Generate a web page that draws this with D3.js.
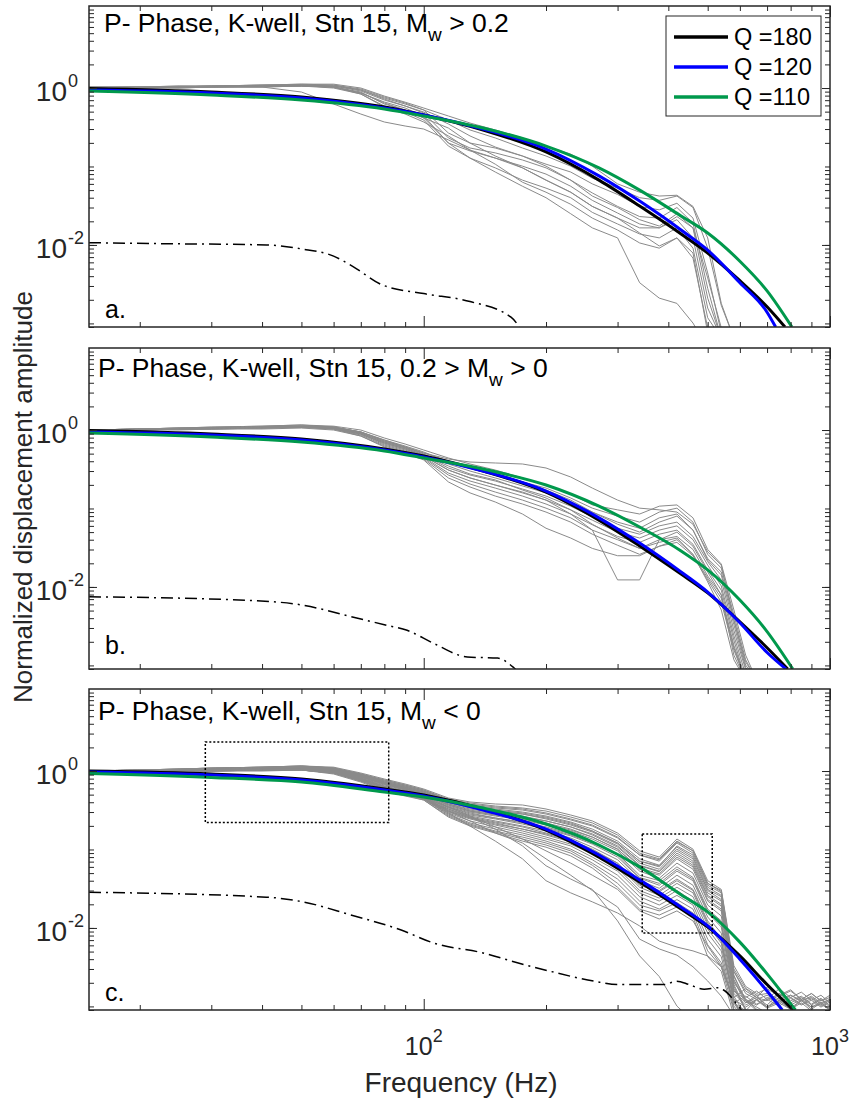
<!DOCTYPE html>
<html>
<head>
<meta charset="utf-8">
<script src="https://cdn.jsdelivr.net/npm/d3@7"></script>
<style>
  body { margin: 0; background: #fff; }
  svg text { font-family: "Liberation Sans", Arial, Helvetica, sans-serif; white-space: pre; }
</style>
</head>
<body>
<div id="chart"></div>
<script>
// **************************
// Data
// **************************
const freqGrid = [15, 20, 25, 30, 40, 50, 60, 70, 80, 90, 100, 115, 130, 150, 175, 200, 230, 260, 300, 340,
  380, 420, 460, 500, 540, 580, 620, 660, 700, 750, 800, 850, 900, 950, 1000]

// observed spectra, panel a (Mw > 0.2)
const grayA = [
  [1.03,1.03,1.06,1.06,1.09,1.12,1.12,1.0,0.79,0.66,0.556,0.44,0.358,0.292,0.231,0.182,0.144,0.101,0.060,0.047,0.042,0.043,0.031,0.0123,0.0018,0.00065],
  [1.03,1.03,1.06,1.06,1.09,1.12,1.09,0.943,0.746,0.625,0.525,0.391,0.292,0.231,0.172,0.136,0.101,0.071,0.053,0.040,0.037,0.042,0.030,0.0091,0.0017,0.00065],
  [1.0,1.03,1.03,1.06,1.09,1.09,1.09,0.971,0.768,0.644,0.525,0.267,0.199,0.172,0.136,0.107,0.085,0.060,0.044,0.031,0.028,0.034,0.022,0.0044,0.00076],
  [1.0,1.03,1.03,1.06,1.06,1.09,1.06,0.916,0.703,0.590,0.480,0.231,0.172,0.149,0.121,0.096,0.067,0.046,0.031,0.023,0.022,0.030,0.019,0.0028,0.00065],
  [1.0,1.0,1.03,1.03,1.06,1.09,1.03,0.864,0.663,0.556,0.440,0.199,0.158,0.128,0.101,0.080,0.056,0.037,0.0255,0.0185,0.0165,0.023,0.0165,0.0021,0.00065],
  [1.0,1.0,1.03,1.03,1.06,1.06,1.03,0.889,0.625,0.525,0.415,0.309,0.199,0.136,0.096,0.067,0.047,0.031,0.022,0.0165,0.0165,0.021,0.0123,0.00157,0.00065],
  [1.0,1.0,1.03,1.03,1.03,1.06,1.03,0.839,0.590,0.494,0.391,0.182,0.128,0.096,0.067,0.053,0.040,0.026,0.0185,0.0138,0.0123,0.0165,0.0091,0.00118,0.00065],
  [1.0,1.0,1.0,1.03,1.03,1.06,1.0,0.839,0.573,0.466,0.369,0.245,0.162,0.107,0.063,0.047,0.033,0.022,0.0155,0.0106,0.0091,0.0123,0.0068,0.00088],
  [1.0,1.0,1.0,1.03,1.03,0.889,0.625,0.466,0.369,0.328,0.300,0.218,0.162,0.128,0.096,0.067,0.047,0.031,0.022,0.0142,0.0097,0.0123,0.0079,0.00076],
  [1.0,1.0,1.03,1.03,1.06,1.06,1.03,0.864,0.644,0.525,0.415,0.199,0.128,0.085,0.056,0.040,0.025,0.0165,0.0123,0.0033,0.0021,0.0018,0.00101,0.00048],
  [1.03,1.03,1.03,1.06,1.06,1.09,1.06,0.943,0.724,0.590,0.494,0.348,0.245,0.177,0.136,0.101,0.067,0.042,0.030,0.021,0.0174,0.025,0.0165,0.0038,0.00088]
]

// observed spectra, panel b (0.2 > Mw > 0)
const grayB = [
  [1.0,1.03,1.06,1.09,1.12,1.16,1.12,1.0,0.791,0.663,0.556,0.440,0.369,0.309,0.245,0.199,0.153,0.111,0.096,0.085,0.107,0.111,0.076,0.030,0.0196,0.0051,0.00135,0.00065],
  [1.0,1.03,1.06,1.09,1.12,1.16,1.09,0.943,0.746,0.625,0.525,0.391,0.328,0.275,0.218,0.182,0.136,0.101,0.080,0.067,0.090,0.101,0.067,0.026,0.0174,0.0044,0.00118,0.00065],
  [1.0,1.03,1.06,1.06,1.09,1.12,1.09,0.943,0.724,0.607,0.494,0.369,0.300,0.245,0.194,0.158,0.121,0.090,0.067,0.056,0.076,0.085,0.053,0.023,0.0155,0.0038,0.00101,0.00065],
  [1.0,1.03,1.03,1.06,1.09,1.12,1.06,0.916,0.703,0.590,0.480,0.328,0.267,0.224,0.177,0.144,0.107,0.078,0.056,0.047,0.060,0.067,0.044,0.021,0.0123,0.0028,0.00088],
  [1.0,1.0,1.03,1.06,1.09,1.12,1.06,0.889,0.683,0.573,0.466,0.309,0.245,0.199,0.158,0.128,0.096,0.071,0.050,0.042,0.053,0.060,0.040,0.019,0.0103,0.0024,0.00076],
  [1.0,1.0,1.03,1.06,1.06,1.09,1.06,0.889,0.663,0.556,0.453,0.283,0.224,0.182,0.144,0.114,0.085,0.062,0.044,0.037,0.047,0.053,0.035,0.0165,0.0091,0.0021,0.00065],
  [1.0,1.0,1.03,1.03,1.06,1.09,1.03,0.864,0.644,0.540,0.440,0.267,0.205,0.162,0.128,0.101,0.076,0.053,0.040,0.031,0.040,0.044,0.030,0.0138,0.0079,0.0018,0.00065],
  [1.0,1.0,1.03,1.03,1.06,1.09,1.03,0.839,0.625,0.525,0.427,0.245,0.188,0.144,0.114,0.090,0.067,0.047,0.034,0.026,0.033,0.037,0.025,0.0123,0.0064,0.00157,0.00065],
  [1.0,1.03,1.06,1.06,1.09,1.12,1.09,0.943,0.746,0.607,0.509,0.427,0.391,0.380,0.369,0.328,0.252,0.182,0.128,0.101,0.096,0.090,0.063,0.028,0.019,0.0038,0.00111,0.00065],
  [1.0,1.0,1.0,1.03,1.03,1.06,1.0,0.839,0.607,0.509,0.415,0.218,0.158,0.121,0.085,0.056,0.042,0.031,0.025,0.025,0.033,0.040,0.026,0.0116,0.0051,0.00118,0.00065],
  [1.0,1.0,1.03,1.03,1.06,1.09,1.03,0.889,0.683,0.573,0.466,0.309,0.245,0.199,0.162,0.128,0.085,0.053,0.0123,0.0123,0.040,0.050,0.033,0.0155,0.0079,0.00135,0.00065],
  [1.0,1.0,1.03,1.06,1.09,1.09,1.06,0.916,0.703,0.590,0.480,0.348,0.275,0.231,0.172,0.136,0.096,0.063,0.042,0.031,0.037,0.042,0.026,0.0130,0.0072,0.00168,0.00065],
  [1.0,1.03,1.03,1.06,1.09,1.12,1.09,0.943,0.724,0.607,0.509,0.403,0.338,0.275,0.218,0.172,0.128,0.090,0.063,0.050,0.067,0.080,0.053,0.022,0.0142,0.0033,0.00094,0.00065]
]

// observed spectra, panel c (Mw < 0)
const grayC = [
  [1.0,1.03,1.06,1.09,1.12,1.16,1.12,0.943,0.791,0.683,0.590,0.453,0.403,0.380,0.369,0.328,0.275,0.231,0.162,0.096,0.080,0.136,0.101,0.040,0.031,0.0033,0.0018,0.00146,0.00168,0.00135,0.00157,0.00123,0.00146,0.00118,0.00130],
  [1.0,1.03,1.06,1.09,1.12,1.16,1.09,0.916,0.768,0.663,0.573,0.427,0.380,0.348,0.328,0.292,0.245,0.205,0.144,0.085,0.071,0.121,0.090,0.035,0.028,0.0028,0.00157,0.00130,0.00118,0.00146,0.00111,0.00130,0.00104,0.00123,0.00098],
  [1.0,1.03,1.06,1.09,1.12,1.12,1.09,0.889,0.746,0.644,0.556,0.415,0.358,0.328,0.300,0.267,0.224,0.182,0.128,0.076,0.063,0.107,0.080,0.031,0.025,0.0024,0.00123,0.00092,0.00076],
  [1.0,1.03,1.03,1.06,1.09,1.12,1.06,0.889,0.724,0.625,0.540,0.391,0.338,0.309,0.283,0.245,0.205,0.167,0.117,0.067,0.056,0.096,0.071,0.028,0.022,0.00211,0.00111,0.00139,0.00098,0.00118,0.00092,0.00111,0.00088],
  [1.0,1.03,1.03,1.06,1.09,1.12,1.06,0.864,0.703,0.607,0.525,0.380,0.328,0.292,0.267,0.231,0.194,0.153,0.107,0.062,0.052,0.085,0.063,0.025,0.019,0.0018,0.00088,0.00065],
  [1.0,1.0,1.03,1.06,1.09,1.12,1.06,0.864,0.703,0.607,0.509,0.369,0.309,0.275,0.252,0.218,0.182,0.144,0.101,0.056,0.047,0.076,0.056,0.022,0.0165,0.00199,0.00130,0.00157,0.00123,0.00168,0.00130,0.00152,0.00120,0.00139,0.00111],
  [1.0,1.0,1.03,1.06,1.09,1.09,1.03,0.839,0.683,0.590,0.509,0.358,0.300,0.267,0.238,0.205,0.172,0.136,0.096,0.053,0.043,0.067,0.050,0.0196,0.0142,0.00168,0.00092,0.00065],
  [1.0,1.0,1.03,1.06,1.06,1.09,1.03,0.839,0.683,0.573,0.494,0.348,0.292,0.252,0.224,0.194,0.158,0.125,0.088,0.047,0.040,0.060,0.044,0.0174,0.0123,0.00146,0.00104,0.00123,0.00098,0.00130,0.00104,0.00123,0.00098,0.00114,0.00092],
  [1.0,1.0,1.03,1.03,1.06,1.09,1.03,0.814,0.663,0.573,0.480,0.338,0.275,0.245,0.211,0.182,0.149,0.117,0.080,0.043,0.035,0.053,0.040,0.0155,0.0103,0.00135,0.00076],
  [1.0,1.0,1.03,1.03,1.06,1.09,1.0,0.814,0.644,0.556,0.480,0.328,0.267,0.231,0.199,0.172,0.140,0.107,0.074,0.040,0.032,0.047,0.035,0.0138,0.0086,0.00123,0.00098,0.00120,0.00095,0.00111,0.00092,0.00118,0.00098,0.00107,0.00090],
  [1.0,1.0,1.03,1.03,1.06,1.06,1.0,0.791,0.644,0.556,0.466,0.318,0.259,0.224,0.194,0.162,0.132,0.101,0.067,0.036,0.030,0.042,0.031,0.0123,0.0072,0.00118,0.00065],
  [1.0,1.0,1.0,1.03,1.06,1.06,1.0,0.791,0.625,0.540,0.466,0.309,0.252,0.218,0.182,0.153,0.125,0.096,0.063,0.033,0.026,0.037,0.028,0.0109,0.0064,0.00111,0.00065],
  [1.0,1.0,1.0,1.03,1.03,1.06,0.971,0.768,0.625,0.540,0.453,0.300,0.245,0.205,0.172,0.144,0.117,0.088,0.058,0.030,0.024,0.033,0.025,0.0097,0.0057,0.00130,0.00168,0.00130,0.00178,0.00139,0.00163,0.00123,0.00146,0.00118,0.00139],
  [1.0,1.0,1.0,1.03,1.03,1.06,0.971,0.768,0.607,0.525,0.453,0.292,0.231,0.194,0.162,0.136,0.111,0.080,0.053,0.028,0.022,0.030,0.022,0.0086,0.0051,0.00101,0.00065],
  [1.0,1.0,1.0,1.03,1.03,1.03,0.943,0.746,0.590,0.509,0.440,0.283,0.218,0.182,0.153,0.128,0.101,0.074,0.047,0.025,0.0196,0.026,0.0196,0.0072,0.0043,0.00092,0.00065],
  [1.0,1.0,1.0,1.0,1.03,1.03,0.943,0.746,0.590,0.509,0.440,0.275,0.211,0.172,0.144,0.121,0.096,0.067,0.042,0.022,0.0174,0.023,0.0174,0.0061,0.0036,0.00111,0.00135,0.00107,0.00123,0.00101,0.00127,0.00104,0.00120,0.00098,0.00114],
  [1.0,1.0,1.0,1.0,1.03,1.03,0.943,0.746,0.573,0.494,0.427,0.267,0.205,0.167,0.136,0.114,0.090,0.063,0.037,0.0196,0.0165,0.021,0.0155,0.0051,0.0032,0.00088,0.00065],
  [1.0,1.0,1.0,1.0,1.0,1.03,0.916,0.724,0.556,0.480,0.427,0.259,0.199,0.162,0.128,0.107,0.083,0.058,0.033,0.0174,0.0146,0.0185,0.0138,0.0043,0.0028,0.00076],
  [1.0,1.03,1.03,1.06,1.09,1.12,1.09,0.916,0.768,0.663,0.573,0.440,0.391,0.358,0.338,0.309,0.259,0.218,0.153,0.090,0.076,0.128,0.096,0.037,0.030,0.0030,0.0017,0.00139,0.00146,0.00123,0.00139,0.00118,0.00135,0.00111,0.00123],
  [1.0,1.0,1.03,1.06,1.09,1.12,1.06,0.889,0.724,0.625,0.540,0.403,0.348,0.318,0.292,0.259,0.218,0.172,0.121,0.071,0.060,0.101,0.076,0.030,0.023,0.0022,0.00118,0.00098,0.00082],
  [1.0,1.0,1.03,1.03,1.06,1.09,1.03,0.839,0.683,0.590,0.494,0.348,0.283,0.252,0.218,0.188,0.153,0.121,0.085,0.044,0.037,0.056,0.042,0.0165,0.0113,0.00157,0.00111,0.00130,0.00104,0.00146,0.00118,0.00135,0.00107,0.00127,0.00101],
  [1.0,1.0,1.0,1.03,1.03,1.06,0.971,0.791,0.625,0.540,0.466,0.309,0.252,0.211,0.182,0.158,0.128,0.098,0.067,0.035,0.029,0.040,0.030,0.0116,0.0068,0.00118,0.00065],
  [1.0,1.03,1.06,1.09,1.12,1.16,1.09,0.916,0.746,0.644,0.556,0.427,0.369,0.338,0.318,0.283,0.238,0.199,0.140,0.085,0.074,0.125,0.096,0.037,0.029,0.0028,0.00146,0.00123,0.00139,0.00118,0.00130,0.00107,0.00127,0.00101,0.00120],
  [1.0,1.03,1.03,1.06,1.09,1.12,1.06,0.889,0.724,0.625,0.540,0.403,0.348,0.309,0.283,0.252,0.211,0.172,0.121,0.071,0.062,0.111,0.085,0.033,0.026,0.0025,0.00118,0.00088],
  [1.0,1.0,1.03,1.06,1.09,1.12,1.06,0.864,0.703,0.607,0.525,0.380,0.318,0.283,0.259,0.231,0.194,0.158,0.111,0.063,0.053,0.090,0.067,0.026,0.020,0.0019,0.00092,0.00065],
  [1.0,1.0,1.03,1.03,1.06,1.09,1.03,0.839,0.683,0.590,0.509,0.369,0.309,0.275,0.245,0.211,0.177,0.144,0.101,0.058,0.049,0.080,0.060,0.023,0.0174,0.00157,0.00123,0.00104,0.00130,0.00111,0.00139,0.00118,0.00130,0.00107,0.00123],
  [1.0,1.0,1.0,1.0,1.03,1.06,0.971,0.791,0.625,0.540,0.440,0.309,0.231,0.162,0.121,0.076,0.047,0.030,0.0185,0.0072,0.0054,0.0045,0.0032,0.00211,0.00135,0.00076],
  [1.0,1.0,1.0,1.03,1.03,1.06,0.971,0.791,0.625,0.525,0.440,0.292,0.199,0.128,0.076,0.040,0.028,0.0215,0.0155,0.0106,0.0068,0.0057,0.0051,0.0044,0.0032,0.00118,0.00065],
  [1.0,1.0,1.0,1.0,1.03,1.03,0.943,0.768,0.607,0.525,0.440,0.328,0.259,0.182,0.111,0.062,0.042,0.031,0.0123,0.0044,0.0024,0.00101,0.00065],
  [1.0,1.0,1.0,1.03,1.03,1.06,0.971,0.791,0.625,0.540,0.453,0.348,0.267,0.194,0.136,0.096,0.067,0.047,0.031,0.0165,0.0130,0.0165,0.0123,0.0059,0.0033,0.00111,0.00088,0.00123,0.00098,0.00118,0.00095,0.00120,0.00092,0.00111,0.00090]
]

// noise spectra (dash-dot)
const noiseFreqA = [15, 22, 41, 50, 60, 67, 79, 100, 130, 164, 180]
const noiseAmpA = [0.0107, 0.0104, 0.0100, 0.0089, 0.0072, 0.0053, 0.0031, 0.0024, 0.0019, 0.0012, 0.0006]
const noiseFreqB = [15, 38, 50, 66, 80, 91, 106, 128, 152, 166, 180]
const noiseAmpB = [0.0075, 0.0067, 0.0059, 0.0042, 0.0033, 0.0028, 0.0019, 0.00128, 0.00124, 0.00095, 0.0006]
const noiseFreqC = [15, 41, 50, 66, 88, 106, 140, 170, 205, 262, 300, 390, 420, 450, 490, 530, 546, 600, 640]
const noiseAmpC = [0.0285, 0.0247, 0.0217, 0.0147, 0.0094, 0.0064, 0.0048, 0.0036, 0.0028, 0.0021, 0.0019,
  0.0019, 0.0021, 0.0019, 0.00165, 0.00173, 0.00163, 0.00095, 0.0006]

// model spectra, last point is where each curve leaves the axes
const modelFreq = [15, 30, 50, 80, 100, 140, 200, 270, 340, 430, 500, 600, 700]
const qLabels = ["Q =180", "Q =120", "Q =110"]
const endFreqA = [775, 735, 806]
const endFreqB = [787, 779, 810]
const endFreqC = [812, 763, 822]
const q180A = [0.985,0.889,0.768,0.573,0.453,0.292,0.153,0.067,0.0313,0.0138,0.0079,0.0035,0.00163,0.0009]
const q120A = [0.943,0.864,0.746,0.556,0.453,0.300,0.167,0.076,0.0362,0.0155,0.0086,0.0033,0.00139,0.0009]
const q110A = [0.916,0.814,0.703,0.540,0.440,0.309,0.182,0.096,0.050,0.0234,0.0142,0.0062,0.0026,0.0009]
const q180B = [0.985,0.889,0.768,0.573,0.466,0.300,0.162,0.071,0.0333,0.0146,0.0084,0.0036,0.00168,0.0009]
const q120B = [0.943,0.864,0.746,0.556,0.453,0.300,0.167,0.076,0.0362,0.0155,0.0086,0.0035,0.00146,0.0009]
const q110B = [0.916,0.814,0.703,0.540,0.440,0.318,0.199,0.107,0.058,0.0288,0.0165,0.0068,0.0027,0.0009]
const q180C = [1.0,0.916,0.791,0.590,0.494,0.328,0.177,0.080,0.0385,0.0174,0.0103,0.0044,0.0019,0.0009]
const q120C = [0.971,0.889,0.768,0.573,0.480,0.318,0.182,0.085,0.041,0.0184,0.0106,0.0040,0.00157,0.0009]
const q110C = [0.929,0.827,0.724,0.540,0.466,0.338,0.211,0.114,0.060,0.0265,0.0160,0.0066,0.0026,0.0009]

// dotted boxes in panel c
const boxFreq = [[29, 82], [345, 513]]
const boxAmp = [[0.22, 2.35], [0.0086, 0.158]]

// **************************
// Layout
// **************************
const W = 855, H = 1104
const X0 = 89, X1 = 830, PH = 321
const yDomain = [0.0009, 11.1]
const axisColor = "#262626"
const qColors = ["#000000", "#0000ff", "#00994c"]

const panels = [
  { top: 6, gray: grayA, nf: noiseFreqA, na: noiseAmpA, q: [q180A, q120A, q110A], ends: endFreqA,
    title: ["P- Phase, K-well, Stn 15, M", "w", " > 0.2"], titleX: 104, titleY: 32, tag: "a.", tagY: 318 },
  { top: 348, gray: grayB, nf: noiseFreqB, na: noiseAmpB, q: [q180B, q120B, q110B], ends: endFreqB,
    title: ["P- Phase, K-well, Stn 15, 0.2 > M", "w", " > 0"], titleX: 98, titleY: 377, tag: "b.", tagY: 654 },
  { top: 689, gray: grayC, nf: noiseFreqC, na: noiseAmpC, q: [q180C, q120C, q110C], ends: endFreqC,
    title: ["P- Phase, K-well, Stn 15, M", "w", " < 0"], titleX: 98, titleY: 720, tag: "c.", tagY: 1001 }
]

const svg = d3.select("#chart").append("svg")
    .attr("width", W)
    .attr("height", H)

const x = d3.scaleLog().domain([15, 1000]).range([X0, X1])

const yMinor = []
for (let e = -4; e <= 1; e++) {
  for (let k = 1; k <= 9; k++) {
    const v = k * Math.pow(10, e)
    if (v >= yDomain[0] && v <= yDomain[1]) yMinor.push(v)
  }
}
const yMajor = [0.01, 1]
const xMinor = [20, 30, 40, 50, 60, 70, 80, 90, 200, 300, 400, 500, 600, 700, 800, 900]
const xMajor = [100, 1000]

function drawTicks(g, y, top) {
  const noDomain = s => s.select(".domain").remove()
  const add = (axis, tx, ty) => g.append("g")
      .attr("transform", `translate(${tx},${ty})`)
      .call(axis.tickSizeOuter(0).tickFormat(""))
      .call(noDomain)
      .call(s => s.selectAll("line").attr("stroke", axisColor).attr("stroke-width", 1))
  add(d3.axisLeft(y).tickValues(yMinor).tickSizeInner(-5), X0, 0)
  add(d3.axisLeft(y).tickValues(yMajor).tickSizeInner(-8), X0, 0)
  add(d3.axisRight(y).tickValues(yMinor).tickSizeInner(-5), X1, 0)
  add(d3.axisRight(y).tickValues(yMajor).tickSizeInner(-8), X1, 0)
  add(d3.axisBottom(x).tickValues(xMinor).tickSizeInner(-5), 0, top + PH)
  add(d3.axisBottom(x).tickValues(xMajor).tickSizeInner(-11), 0, top + PH)
  add(d3.axisTop(x).tickValues(xMinor).tickSizeInner(-5), 0, top)
  add(d3.axisTop(x).tickValues(xMajor).tickSizeInner(-11), 0, top)
}

panels.forEach((p, i) => {
  const y = d3.scaleLog().domain(yDomain).range([p.top + PH, p.top])
  const g = svg.append("g")

  svg.append("clipPath").attr("id", "clip" + i)
    .append("rect")
      .attr("x", X0).attr("y", p.top)
      .attr("width", X1 - X0).attr("height", PH)

  const plot = g.append("g").attr("clip-path", `url(#clip${i})`)

  // observed spectra
  const grayLine = d3.line()
      .x((d, j) => x(freqGrid[j]))
      .y(d => y(d))
  p.gray.forEach(arr => {
    plot.append("path")
        .attr("d", grayLine(arr))
        .attr("fill", "none")
        .attr("stroke", "#8a8a8a")
        .attr("stroke-width", 1)
  })

  // noise
  const pairLine = d3.line()
      .x(d => x(d[0]))
      .y(d => y(d[1]))
      .curve(d3.curveMonotoneX)
  plot.append("path")
      .attr("d", pairLine(d3.zip(p.nf, p.na)))
      .attr("fill", "none")
      .attr("stroke", "#000")
      .attr("stroke-width", 1.5)
      .attr("stroke-dasharray", "12,5,2,5")

  // models
  p.q.forEach((amps, k) => {
    plot.append("path")
        .attr("d", pairLine(d3.zip(modelFreq.concat([p.ends[k]]), amps)))
        .attr("fill", "none")
        .attr("stroke", qColors[k])
        .attr("stroke-width", 3)
  })

  // dotted boxes
  if (i === 2) {
    boxFreq.forEach((bf, k) => {
      const ba = boxAmp[k]
      g.append("rect")
          .attr("x", x(bf[0]))
          .attr("y", y(ba[1]))
          .attr("width", x(bf[1]) - x(bf[0]))
          .attr("height", y(ba[0]) - y(ba[1]))
          .attr("fill", "none")
          .attr("stroke", "#000")
          .attr("stroke-width", 1.5)
          .attr("stroke-dasharray", "2,2")
    })
  }

  drawTicks(g, y, p.top)

  // box
  g.append("rect")
      .attr("x", X0).attr("y", p.top)
      .attr("width", X1 - X0).attr("height", PH)
      .attr("fill", "none")
      .attr("stroke", axisColor)
      .attr("stroke-width", 1.5)

  // y tick labels
  yMajor.forEach(v => {
    const ty = y(v)
    g.append("text")
        .attr("x", 67).attr("y", ty + 13)
        .attr("text-anchor", "end")
        .attr("font-size", 28)
        .attr("fill", axisColor)
        .text("10")
    g.append("text")
        .attr("x", 68).attr("y", ty - 1)
        .attr("font-size", 18)
        .attr("fill", axisColor)
        .text(String(Math.round(Math.log10(v))))
  })

  // title
  const t = g.append("text")
      .attr("x", p.titleX).attr("y", p.titleY)
      .attr("font-size", 26.5)
      .attr("fill", "#000")
  t.append("tspan").text(p.title[0])
  t.append("tspan").attr("font-size", 19).attr("dy", 9).text(p.title[1])
  t.append("tspan").attr("dy", -9).text(p.title[2])

  g.append("text")
      .attr("x", 105).attr("y", p.tagY)
      .attr("font-size", 25)
      .attr("fill", "#000")
      .text(p.tag)
})

// x tick labels on bottom panel
xMajor.forEach(v => {
  const t = svg.append("text")
      .attr("x", x(v)).attr("y", 1055)
      .attr("text-anchor", "middle")
      .attr("font-size", 25)
      .attr("fill", axisColor)
  t.append("tspan").text("10")
  t.append("tspan").attr("font-size", 18).attr("dy", -13).text(String(Math.round(Math.log10(v))))
})

// axis labels
svg.append("text")
    .attr("x", 461).attr("y", 1092)
    .attr("text-anchor", "middle")
    .attr("font-size", 28)
    .attr("fill", axisColor)
    .text("Frequency (Hz)")

svg.append("text")
    .attr("transform", "translate(32,497) rotate(-90)")
    .attr("text-anchor", "middle")
    .attr("font-size", 26)
    .attr("fill", axisColor)
    .text("Normalized displacement amplitude")

// legend in panel a
const legend = svg.append("g")
legend.append("rect")
    .attr("x", 666).attr("y", 16)
    .attr("width", 155).attr("height", 100)
    .attr("fill", "#fff")
    .attr("stroke", axisColor)
    .attr("stroke-width", 1)
qLabels.forEach((lab, k) => {
  const ly = 37 + k * 30
  legend.append("line")
      .attr("x1", 674).attr("x2", 728)
      .attr("y1", ly).attr("y2", ly)
      .attr("stroke", qColors[k])
      .attr("stroke-width", 3.5)
  legend.append("text")
      .attr("x", 734).attr("y", ly + 8)
      .attr("font-size", 23.5)
      .attr("fill", "#000")
      .text(lab)
})
</script>
</body>
</html>
